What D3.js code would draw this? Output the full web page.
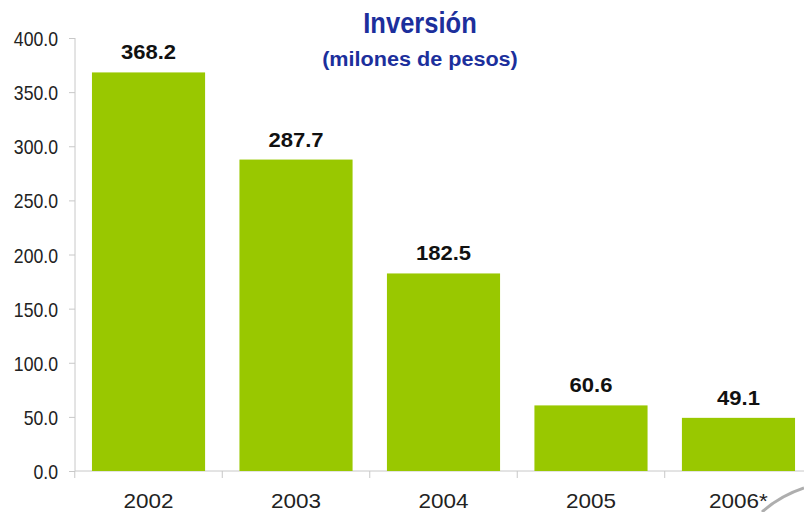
<!DOCTYPE html>
<html><head><meta charset="utf-8">
<script src="https://cdn.jsdelivr.net/npm/d3@7"></script>
<style>body{margin:0;background:#fff}svg{display:block}</style>
</head><body>
<svg id="c" width="804" height="512"></svg>
<script>
const categories = ["2002","2003","2004","2005","2006*"];
const values = [368.2, 287.7, 182.5, 60.6, 49.1];
const yTicks = [0,50,100,150,200,250,300,350,400];
const title = "Inversión";
const subtitle = "(milones de pesos)";

const FONT = "Liberation Sans, Arial, sans-serif";
function stretch(sel, factor){
  sel.each(function(){
    const L = this.getComputedTextLength();
    d3.select(this).attr("textLength", L*factor).attr("lengthAdjust","spacingAndGlyphs");
  });
}

const svg = d3.select("#c");
const x = d3.scaleBand().domain(categories).range([75, 812]).paddingInner(0.233).paddingOuter(0.115);
const y = d3.scaleLinear().domain([0, 400]).range([471, 38]);

// y axis
const ya = svg.append("g").attr("transform","translate(75,0)")
  .call(d3.axisLeft(y).tickValues(yTicks).tickFormat(d3.format(".1f")).tickSize(6).tickPadding(11));
ya.select(".domain").attr("stroke","#c8c8c8").attr("d","M0,38V471");
ya.selectAll(".tick line").attr("stroke","#c8c8c8");
ya.selectAll(".tick text").attr("font-family",FONT).attr("font-size",21).attr("fill","#222").attr("dy","0.36em");
stretch(ya.selectAll(".tick text"), 0.84);

// x axis
const xa = svg.append("g").attr("transform","translate(0,471)")
  .call(d3.axisBottom(x).tickSize(0).tickPadding(0));
xa.select(".domain").attr("stroke","#c8c8c8").attr("d","M75,0H812");
xa.selectAll(".tick text").attr("font-family",FONT).attr("font-size",21).attr("fill","#222").attr("dy",null).attr("y",37);
stretch(xa.selectAll(".tick text"), 1.07);
// separators between categories
svg.append("g").selectAll("line").data(categories).join("line")
  .attr("x1",d=>x(d)-x.step()*x.paddingInner()/2).attr("x2",d=>x(d)-x.step()*x.paddingInner()/2)
  .attr("y1",471).attr("y2",478).attr("stroke","#c8c8c8");

// bars
svg.append("g").selectAll("rect").data(values).join("rect")
  .attr("x",(d,i)=>x(categories[i])).attr("width",x.bandwidth())
  .attr("y",d=>y(d)).attr("height",d=>y(0)-y(d)).attr("fill","#99c800");

// labels
const vl = svg.append("g").selectAll("text").data(values).join("text")
  .attr("x",(d,i)=>x(categories[i])+x.bandwidth()/2).attr("y",d=>y(d)-13)
  .attr("text-anchor","middle").attr("font-family",FONT)
  .attr("font-weight","bold").attr("font-size",19.5).attr("fill","#111")
  .text(d=>d.toFixed(1));
stretch(vl, 1.13);

// title
const t1 = svg.append("text").attr("x",420).attr("y",33).attr("text-anchor","middle")
  .attr("font-family",FONT)
  .attr("font-weight","bold").attr("font-size",29).attr("fill","#1c2f9c").text(title);
stretch(t1, 0.88);
const t2 = svg.append("text").attr("x",420).attr("y",66).attr("text-anchor","middle")
  .attr("font-family",FONT)
  .attr("font-weight","bold").attr("font-size",20).attr("fill","#1c2f9c").text(subtitle);
stretch(t2, 1.08);

// decorative swoosh
svg.append("path").attr("d","M762,512 Q780,496 804,488").attr("fill","none").attr("stroke","#9a9a9a").attr("stroke-width",3).attr("opacity",0.8);
</script>
</body></html>
